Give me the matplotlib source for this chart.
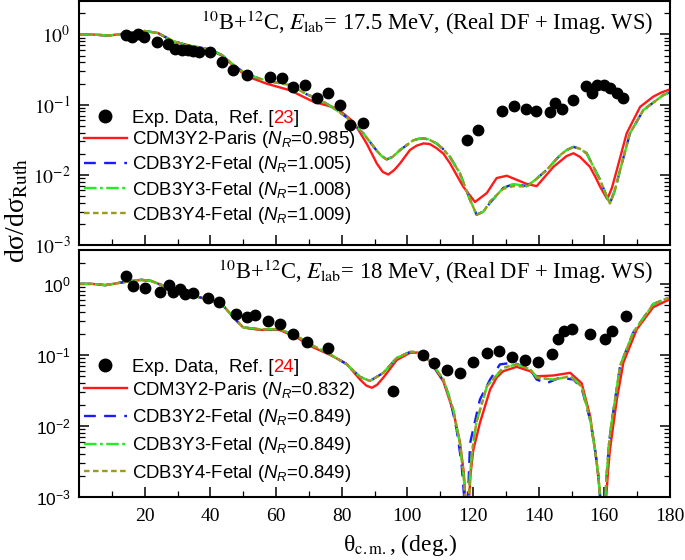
import matplotlib
matplotlib.use('Agg')
import matplotlib.pyplot as plt
from matplotlib.lines import Line2D

plt.rcParams['font.family'] = 'Liberation Serif'
plt.rcParams['mathtext.fontset'] = 'stix'
plt.rcParams['mathtext.rm'] = 'Liberation Sans'
plt.rcParams['mathtext.it'] = 'Liberation Sans:italic'
plt.rcParams['mathtext.bf'] = 'Liberation Sans:bold'
plt.rcParams['lines.scale_dashes'] = False

# ---------------- data: top panel (17.5 MeV) ----------------
top_exp_theta = [14.2, 16.0, 18.1, 19.9, 23.7, 27.2, 29.2, 31.3, 33.3, 34.8, 36.6, 39.9, 43.5, 47.0,
                 51.1, 58.2, 61.7, 65.3, 68.8, 72.6, 75.9, 79.5, 82.5, 86.4,
                 118.1, 121.6, 128.9, 132.5, 136.0, 139.2, 143.3, 145.0, 147.0, 150.6,
                 154.4, 156.2, 157.9, 159.9, 161.7, 163.8, 165.6]
top_exp_sig = [0.98, 0.92, 1.03, 0.91, 0.785, 0.74, 0.63, 0.61, 0.60, 0.58, 0.57, 0.57, 0.41, 0.31,
               0.264, 0.249, 0.237, 0.18, 0.19, 0.123, 0.145, 0.098, 0.051, 0.054,
               0.0313, 0.0436, 0.082, 0.0966, 0.0857, 0.081, 0.0777, 0.104, 0.0857, 0.116,
               0.184, 0.145, 0.19, 0.19, 0.171, 0.145, 0.123]

top_paris_theta = [0, 4, 9, 14, 20, 24, 28.7, 33, 37, 40, 43.5, 47, 51, 57, 64.3, 71.4, 78.5, 83.6,
                   87.6, 90.7, 92.5, 94.2, 96.0, 97.8, 100.8, 102.8, 104.9, 106.8, 108.9, 111,
                   113, 117, 120.6, 124.2, 127.2, 130.3, 133.3, 136.4, 139.4, 144.5, 148.5,
                   150.6, 152.6, 155.6, 157.2, 158.7, 160.9, 162.3, 163.8, 166.8, 170.9, 174.9,
                   177.5, 180]
top_paris_sig = [1.0, 1.0, 0.965, 1.03, 1.12, 1.05, 0.80, 0.70, 0.64, 0.60, 0.50, 0.36, 0.255, 0.20,
                 0.16, 0.11, 0.089, 0.057, 0.028, 0.0145, 0.011, 0.0101, 0.0117, 0.0146, 0.0226,
                 0.026, 0.028, 0.0275, 0.024, 0.02, 0.0146, 0.0068, 0.0041, 0.0055, 0.009, 0.0097,
                 0.0085, 0.0074, 0.0069, 0.013, 0.0185, 0.0203, 0.018, 0.013, 0.0095, 0.0068,
                 0.0045, 0.0065, 0.0117, 0.039, 0.093, 0.13, 0.15, 0.165]

top_fetal_theta = [0, 4, 9, 14, 20, 24, 28.7, 33, 37, 40, 43.5, 47, 51, 57, 64.3, 69.4, 73, 77, 81.5,
                   86.6, 90.7, 92.2, 93.7, 95.5, 97.8, 101.8, 103.3, 104.9, 106.5, 108.9, 110.8,
                   113, 116, 119.1, 121.1, 123.2, 125.2, 129.2, 132.3, 136.4, 139, 142.4, 146.5,
                   148.5, 150.6, 152.6, 154.6, 158.7, 160.3, 161.7, 163.2, 164.8, 167.8, 171.9,
                   175.9, 178, 180]
top_b3y2_sig = [1.0, 1.0, 0.965, 1.03, 1.12, 1.05, 0.80, 0.705, 0.65, 0.61, 0.51, 0.37, 0.27, 0.22,
                0.19, 0.14, 0.12, 0.093, 0.066, 0.039, 0.022, 0.0185, 0.0166, 0.018, 0.0226, 0.031,
                0.0325, 0.033, 0.032, 0.028, 0.0235, 0.018, 0.0105, 0.0044, 0.0027, 0.003, 0.004,
                0.0065, 0.0074, 0.0069, 0.0085, 0.0117, 0.019, 0.0225, 0.025, 0.0235, 0.0203,
                0.0085, 0.0055, 0.0039, 0.006, 0.0117, 0.039, 0.084, 0.116, 0.138, 0.15]
top_b3y3_sig = top_b3y2_sig
top_b3y4_sig = [1.0, 1.0, 0.965, 1.03, 1.12, 1.05, 0.80, 0.705, 0.65, 0.61, 0.51, 0.37, 0.27, 0.22,
                0.19, 0.14, 0.12, 0.093, 0.066, 0.039, 0.022, 0.0185, 0.0166, 0.018, 0.0226, 0.031,
                0.0325, 0.033, 0.032, 0.028, 0.0235, 0.018, 0.0105, 0.0044, 0.0027, 0.003, 0.0042,
                0.0063, 0.0069, 0.0068, 0.0085, 0.0117, 0.019, 0.0225, 0.025, 0.0235, 0.0203,
                0.0085, 0.0055, 0.0039, 0.006, 0.0117, 0.039, 0.084, 0.116, 0.138, 0.15]

# ---------------- data: bottom panel (18 MeV) ----------------
bot_exp_theta = [14.2, 16.5, 20.1, 24.7, 27.4, 28.7, 30.8, 32.3, 34.8, 39.4, 42.6, 47.7, 51.1, 53.6,
                 57.5, 61.2, 65.3, 69.4, 75.7, 95.7, 104.7, 108.0, 112.0, 115.9, 120.0, 124.2,
                 127.9, 132.0, 135.9, 139.9, 144.0, 146.0, 147.8, 150.1, 155.7, 160.2, 162.4, 166.6]
bot_exp_sig = [1.3, 0.93, 0.87, 0.78, 0.97, 0.76, 0.85, 0.71, 0.75, 0.63, 0.56, 0.376, 0.345, 0.37,
               0.30, 0.27, 0.20, 0.153, 0.127, 0.0315, 0.0986, 0.078, 0.0605, 0.056, 0.080, 0.108,
               0.114, 0.093, 0.085, 0.080, 0.104, 0.17, 0.218, 0.234, 0.196, 0.17, 0.218, 0.356]

bot_paris_theta = [0, 4, 8, 12, 16, 19, 22, 25, 29, 33, 36, 39, 43.5, 47.5, 50, 55, 61, 66, 71, 76.5,
                   81.5, 85.6, 87.5, 89.2, 90.8, 92.7, 96.8, 100.8, 103, 105, 107, 111, 114, 116,
                   117.2, 117.8, 118.2, 118.7, 119.3, 120.1, 122.1, 125.2, 127.2, 129.2, 133.3,
                   137.4, 139.4, 144.5, 149.6, 153.1, 155.7, 157.6, 158.8, 159.8, 160.5, 161.1,
                   161.7, 163.8, 165.8, 169.9, 174.9, 180]
bot_paris_sig = [1.0, 1.0, 0.96, 1.03, 1.10, 1.14, 1.10, 0.97, 0.80, 0.70, 0.66, 0.61, 0.52, 0.32,
                 0.244, 0.225, 0.225, 0.18, 0.13, 0.10, 0.075, 0.045, 0.037, 0.0345, 0.038, 0.048,
                 0.085, 0.107, 0.108, 0.1, 0.08, 0.042, 0.016, 0.006, 0.0022, 0.0008, 0.0003,
                 0.0008, 0.0022, 0.0046, 0.011, 0.0325, 0.048, 0.059, 0.068, 0.059, 0.05, 0.0514,
                 0.056, 0.04, 0.0136, 0.0033, 0.001, 0.0003, 0.0009, 0.0022, 0.0046, 0.0235,
                 0.078, 0.23, 0.47, 0.61]

bot_b3y2_theta = [0, 4, 8, 12, 16, 19, 22, 25, 29, 33, 36, 39, 43.5, 47.5, 50, 55, 61, 66.3, 71.4,
                  76.5, 81.5, 85.6, 88.6, 92.7, 96.8, 100.8, 103, 107, 111, 113, 115, 116.5, 117.3,
                  117.8, 118.4, 119.1, 122.1, 125.2, 128.2, 132.3, 137.4, 139.4, 142.4, 146.5,
                  150.6, 153.1, 155.7, 157.2, 158.2, 159.0, 159.7, 160.2, 160.7, 161.4, 162.2,
                  164.8, 168.8, 174.9, 180]
bot_b3y2_sig = [1.0, 1.0, 0.96, 1.03, 1.10, 1.14, 1.10, 0.97, 0.80, 0.70, 0.66, 0.61, 0.52, 0.32,
                0.244, 0.23, 0.23, 0.185, 0.134, 0.102, 0.074, 0.049, 0.043, 0.056, 0.091, 0.11,
                0.11, 0.082, 0.043, 0.024, 0.009, 0.003, 0.001, 0.0003, 0.0008, 0.0057, 0.0235,
                0.045, 0.0736, 0.078, 0.063, 0.045, 0.04, 0.048, 0.045, 0.034, 0.012, 0.0045,
                0.002, 0.0006, 0.0003, 0.0008, 0.002, 0.0055, 0.011, 0.07, 0.207, 0.52, 0.65]

bot_b3y3_theta = [0, 4, 8, 12, 16, 19, 22, 25, 29, 33, 36, 39, 43.5, 47.5, 50, 55, 61, 66.3, 71.4,
                  76.5, 81.5, 85.6, 88.6, 92.7, 96.8, 100.8, 103, 107, 111, 114, 116, 117.2, 117.8,
                  118.2, 118.6, 119.1, 119.8, 121, 124.2, 129.2, 133.3, 137.4, 139.4, 144.5, 149.6,
                  153.1, 155.7, 157.2, 158.2, 159.0, 159.7, 160.2, 160.7, 161.4, 162.2, 164.8,
                  168.8, 174.9, 180]
bot_b3y3_sig = [1.0, 1.0, 0.96, 1.03, 1.10, 1.14, 1.10, 0.97, 0.80, 0.70, 0.66, 0.61, 0.52, 0.32,
                0.244, 0.23, 0.23, 0.185, 0.134, 0.102, 0.074, 0.049, 0.043, 0.056, 0.091, 0.11,
                0.11, 0.082, 0.045, 0.017, 0.0057, 0.0019, 0.0007, 0.0003, 0.0008, 0.0021, 0.0046,
                0.011, 0.036, 0.066, 0.0736, 0.063, 0.048, 0.045, 0.05, 0.036, 0.0123, 0.0045,
                0.002, 0.0006, 0.0003, 0.0008, 0.002, 0.0055, 0.011, 0.07, 0.207, 0.52, 0.65]
bot_b3y4_sig = bot_b3y3_sig

# ---------------- figure ----------------
fig = plt.figure(figsize=(6.85, 5.6), dpi=100)
W, H = 685.0, 560.0
L, R = 79 / W, 670 / W
ax1 = fig.add_axes([L, 1 - 245 / H, R - L, 244 / H])
ax2 = fig.add_axes([L, 1 - 497 / H, R - L, 247 / H])

red, blue, green, olive = '#ff1a1a', '#1a1aff', '#22ee22', '#9a9a1e'
lw = 1.7
FS = 13.4


def style_axes(ax, sans_labels, show_x):
    ax.set_yscale('log')
    ax.set_xlim(0, 180)
    ax.set_ylim(1e-3, 3)
    ax.set_xticks([20, 40, 60, 80, 100, 120, 140, 160, 180])
    ax.set_xticks([10, 30, 50, 70, 90, 110, 130, 150, 170], minor=True)
    ax.set_yticks([1e-3, 1e-2, 1e-1, 1],
                  [r'$10^{-3}$', r'$10^{-2}$', r'$10^{-1}$', r'$10^{0}$'])
    ax.set_yticks([m * d for d in (1e-3, 1e-2, 1e-1, 1) for m in range(2, 10) if m * d < 3],
                  minor=True)
    ax.tick_params(which='both', direction='in', right=True, top=False)
    ax.tick_params(which='major', length=7, width=1.1, pad=6)
    ax.tick_params(which='minor', length=4, width=0.9)
    ax.tick_params(axis='x', labelsize=14, labelbottom=show_x, pad=8)
    if sans_labels:
        ax.tick_params(axis='y', labelsize=12.5, labelfontfamily='Liberation Sans')
    else:
        ax.tick_params(axis='y', labelsize=14)
    for s in ax.spines.values():
        s.set_linewidth(1.5)


def draw_panel(ax, th_exp, sig_exp, th_p, sig_p, th_b2, sig_b2, th_b3, sig_b3, th_b4, sig_b4,
               labels, ref, title, y_exp, y_lines, spacing):
    ax.plot(th_p, sig_p, color=red, lw=lw, ls='-')
    ax.plot(th_b2, sig_b2, color=blue, lw=lw, dashes=(8.5, 6))
    ax.plot(th_b3, sig_b3, color=green, lw=lw, dashes=(9, 2.5, 2, 2.5))
    ax.plot(th_b4, sig_b4, color=olive, lw=lw, dashes=(4, 2.5))
    ax.plot(th_exp, sig_exp, 'o', color='black', ms=7.5, ls='none', zorder=5)
    common = dict(frameon=False, borderpad=0, borderaxespad=0, handlelength=2.3,
                  handletextpad=0.3, numpoints=1,
                  prop={'family': 'Liberation Sans', 'size': FS})
    leg_exp = ax.legend([Line2D([], [], marker='o', color='black', ms=9, ls='none')],
                        [labels[0]], loc='center left', bbox_to_anchor=(0.008, y_exp), **common)
    ax.add_artist(leg_exp)
    handles = [
        Line2D([], [], color=red, lw=lw),
        Line2D([], [], color=blue, lw=lw, dashes=(8.5, 6)),
        Line2D([], [], color=green, lw=lw, dashes=(9, 2.5, 2, 2.5)),
        Line2D([], [], color=olive, lw=lw, dashes=(4, 2.5)),
    ]
    leg = ax.legend(handles, labels[1:], loc='center left', bbox_to_anchor=(0.008, y_lines),
                    labelspacing=spacing, **common)
    for t in leg.get_texts():
        t.set_math_fontfamily('custom')
    t0 = leg_exp.get_texts()[0]
    a1 = ax.annotate(ref, xy=(1, 0), xycoords=t0, ha='left', va='bottom', color='red',
                     fontsize=FS, family='Liberation Sans')
    ax.annotate(']', xy=(1, 0), xycoords=a1, ha='left', va='bottom', color='black',
                fontsize=FS, family='Liberation Sans')
    ax.text(0.971, 0.91, title, transform=ax.transAxes, ha='right', va='center', fontsize=16.3)


style_axes(ax1, False, False)
style_axes(ax2, True, True)

labels_top = ['Exp. Data,  Ref. [',
              r'CDM3Y2-Paris ($N_R$=0.985)',
              r'CDB3Y2-Fetal ($N_R$=1.005)',
              r'CDB3Y3-Fetal ($N_R$=1.008)',
              r'CDB3Y4-Fetal ($N_R$=1.009)']
labels_bot = ['Exp. Data,  Ref. [',
              r'CDM3Y2-Paris ($N_R$=0.832)',
              r'CDB3Y2-Fetal ($N_R$=0.849)',
              r'CDB3Y3-Fetal ($N_R$=0.849)',
              r'CDB3Y4-Fetal ($N_R$=0.849)']

draw_panel(ax1, top_exp_theta, top_exp_sig, top_paris_theta, top_paris_sig,
           top_fetal_theta, top_b3y2_sig, top_fetal_theta, top_b3y3_sig,
           top_fetal_theta, top_b3y4_sig, labels_top, '23',
           r'$^{10}$B+$^{12}$C, $E_{\rm lab}$= 17.5 MeV, (Real DF + Imag. WS)',
           (245 - 118.3) / 244, (245 - 177.5) / 244, 0.22)
draw_panel(ax2, bot_exp_theta, bot_exp_sig, bot_paris_theta, bot_paris_sig,
           bot_b3y2_theta, bot_b3y2_sig, bot_b3y3_theta, bot_b3y3_sig,
           bot_b3y3_theta, bot_b3y4_sig, labels_bot, '24',
           r'$^{10}$B+$^{12}$C, $E_{\rm lab}$= 18 MeV, (Real DF + Imag. WS)',
           (497 - 367) / 247, (497 - 431.8) / 247, 0.36)

fig.text(17 / W, 1 - 210 / H, 'dσ/dσ$_{\\rm Ruth}$', rotation=90,
         ha='center', va='center', fontsize=20)
fig.text(400 / W, 1 - 545 / H, 'θ$_{\\rm c{.}m{.}}$, (deg.)', ha='center', va='center',
         fontsize=17)

fig.canvas.draw()
for t in ax2.get_yticklabels():
    t.set_math_fontfamily('custom')
fig.savefig('out.png', dpi=100)
